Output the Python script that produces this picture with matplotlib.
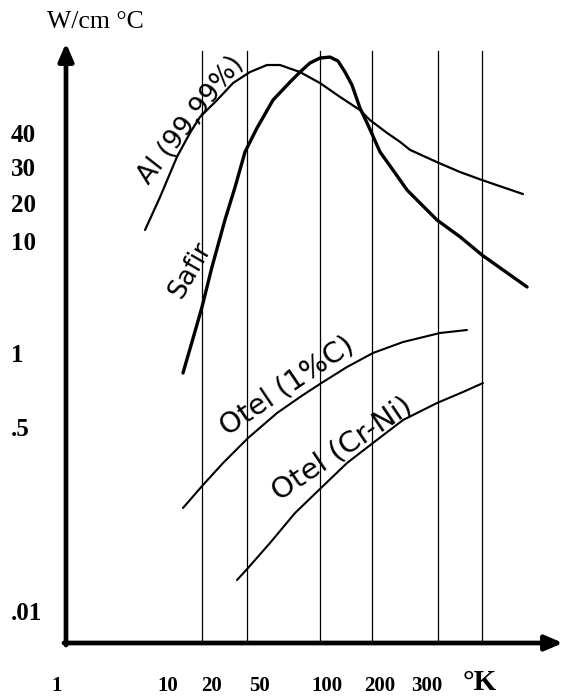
import numpy as np
import matplotlib
matplotlib.use("Agg")
import matplotlib.pyplot as plt

# ---- data: thermal conductivity (W/cm °C) against temperature (°K) ----
temp_ticks = [1, 10, 20, 50, 100, 200, 300]
temp_tick_labels = ["1", "10", "20", "50", "100", "200", "300"]
grid_temps = [20, 50, 100, 200, 300, 400]
k_ticks = [0.01, 0.5, 1, 10, 20, 30, 40]
k_tick_labels = [".01", ".5", "1", "10", "20", "30", "40"]

al_T = [6.21, 8.47, 12.0, 15.66, 19.2, 27.2, 37.6, 51.4, 60.4, 68.4, 82.7,
        100, 130.6, 170.4, 194.8, 219.3, 237.6, 252.6, 298.2, 346.5, 400, 523]
al_k = [12.68, 21.9, 33.4, 40.7, 46.4, 53.3, 61.3, 67.1, 71.1, 71.1, 67.1,
        61.3, 54.7, 49.1, 45.2, 40.7, 37.8, 35.4, 32.0, 29.3, 26.7, 22.7]

safir_T = [13.57, 16.3, 20.0, 24.5, 31.9, 39.2, 48.0, 55.0, 64.0, 75.2, 82.7,
           90.9, 100, 114.3, 127.1, 139.6, 153.2, 170.4, 189.7, 210.1, 230.4,
           248.0, 298.2, 346.5, 400, 537]
safir_k = [0.847, 1.306, 2.683, 6.105, 15.2, 24.6, 34.8, 42.4, 53.3, 61.8, 67.1,
           72.3, 75.3, 75.9, 73.5, 67.1, 60.3, 49.9, 43.4, 34.8, 29.0,
           23.8, 15.2, 11.2, 7.81, 4.05]

otel_c_T = [13.57, 20.4, 30.7, 50.5, 66.5, 85.1, 104.1, 143.3, 201.2, 242.0, 304.0, 362.6]
otel_c_k = [0.0944, 0.1543, 0.2469, 0.4213, 0.585, 0.691, 0.779, 0.895, 1.042, 1.306, 1.572, 1.672]

otel_crni_T = [40.8, 50.5, 62.2, 78.9, 102.7, 143.3, 201.2, 242.0, 298.2, 353.3, 402.6]
otel_crni_k = [0.02025, 0.02617, 0.04466, 0.0848, 0.1478, 0.2469, 0.3789, 0.5484, 0.6417, 0.7105, 0.7718]

# ---- layout: where the hand-drawn axis places its graduations (figure pixels) ----
W, H = 563, 698
X_ANCHOR_T = [1, 10, 20, 50, 100, 200, 300, 400]
X_ANCHOR_PX = [57, 168, 202, 247, 320, 372, 438, 482]
Y_ANCHOR_K = [0.01, 0.5, 1, 10, 20, 30, 40]
Y_ANCHOR_PX = [613, 430, 355, 243, 205, 170, 135]


def piecewise_log(vals, pos):
    """Scale that is piecewise linear in log10(value), extrapolated at both ends."""
    lv = np.log10(np.asarray(vals, float))
    p = np.asarray(pos, float)
    s0 = (p[1] - p[0]) / (lv[1] - lv[0])
    s1 = (p[-1] - p[-2]) / (lv[-1] - lv[-2])

    def fwd(v):
        v = np.asarray(v, float)
        l = np.log10(np.where(v > 0, v, 1e-30))
        out = np.interp(l, lv, p)
        out = np.where(l < lv[0], p[0] + (l - lv[0]) * s0, out)
        out = np.where(l > lv[-1], p[-1] + (l - lv[-1]) * s1, out)
        return out

    def inv(u):
        u = np.asarray(u, float)
        l = np.interp(u, p, lv)
        l = np.where(u < p[0], lv[0] + (u - p[0]) / s0, l)
        l = np.where(u > p[-1], lv[-1] + (u - p[-1]) / s1, l)
        return 10.0 ** l

    return fwd, inv


fx, ix = piecewise_log(X_ANCHOR_T, X_ANCHOR_PX)
fy, iy = piecewise_log(Y_ANCHOR_K, [-v for v in Y_ANCHOR_PX])

fig = plt.figure(figsize=(W / 100, H / 100), dpi=100)
fig.patch.set_facecolor("white")
ax = fig.add_axes([0, 0, 1, 1])
ax.set_xscale("function", functions=(fx, ix))
ax.set_yscale("function", functions=(fy, iy))
ax.set_xlim(float(ix(0)), float(ix(W)))
ax.set_ylim(float(iy(-H)), float(iy(0)))
ax.set_axis_off()


def fx_frac(px):
    return px / W


def fy_frac(py):
    return 1 - py / H


# vertical guide lines
trans_x = ax.get_xaxis_transform()
for t in grid_temps:
    ax.plot([t, t], [fy_frac(643), fy_frac(51)], transform=trans_x,
            color="black", lw=0.9, zorder=1)

# curves
line_kw = dict(color="black", solid_capstyle="round", solid_joinstyle="round", zorder=3)
ax.plot(al_T, al_k, lw=1.6, **line_kw)
ax.plot(safir_T, safir_k, lw=2.4, **line_kw)
ax.plot(otel_c_T, otel_c_k, lw=1.5, **line_kw)
ax.plot(otel_crni_T, otel_crni_k, lw=1.5, **line_kw)

# axes with arrowheads
arrow = dict(arrowstyle="-|>,head_length=0.7,head_width=0.3", lw=3.4,
             color="black", mutation_scale=15, shrinkA=0, shrinkB=0)
ax.annotate("", xy=(fx_frac(66), fy_frac(43)), xytext=(fx_frac(66), fy_frac(645)),
            xycoords="axes fraction", textcoords="axes fraction",
            arrowprops=arrow, zorder=4)
ax.annotate("", xy=(fx_frac(563), fy_frac(643)), xytext=(fx_frac(64), fy_frac(643)),
            xycoords="axes fraction", textcoords="axes fraction",
            arrowprops=arrow, zorder=4)

serif = "Liberation Serif"

# temperature graduations
x_label_dx = [0, 0, 10, 13, 7, 8, -11]
for t, lbl, dx in zip(temp_ticks, temp_tick_labels, x_label_dx):
    ax.annotate(lbl, xy=(t, fy_frac(686)), xycoords=trans_x,
                xytext=(dx, 0), textcoords="offset pixels",
                ha="center", va="center", fontsize=15, fontweight="bold",
                family=serif)
ax.text(fx_frac(480), fy_frac(682), "°K", transform=ax.transAxes,
        ha="center", va="center", fontsize=21, fontweight="bold", family=serif)

# conductivity graduations
trans_y = ax.get_yaxis_transform()
for k, lbl in zip(k_ticks, k_tick_labels):
    ax.text(fx_frac(11), k, lbl, transform=trans_y, ha="left", va="center",
            fontsize=18, fontweight="bold", family=serif)
ax.text(fx_frac(47), fy_frac(22), "W/cm °C", transform=ax.transAxes,
        ha="left", va="center", fontsize=18.5, family=serif)

# curve names
hand = dict(family="DejaVu Sans", color="black", ha="center", va="center",
            transform=ax.transAxes, rotation_mode="anchor")
ax.text(fx_frac(191), fy_frac(120), "Al (99,99%)", rotation=52, fontsize=19, **hand)
ax.text(fx_frac(190), fy_frac(270), "Safir", rotation=60, fontsize=19, **hand)
ax.text(fx_frac(287), fy_frac(386), "Otel (1%C)", rotation=34, fontsize=20.5, **hand)
ax.text(fx_frac(342), fy_frac(449), "Otel (Cr-Ni)", rotation=34, fontsize=21, **hand)

fig.savefig("out.png", dpi=100, facecolor="white")
